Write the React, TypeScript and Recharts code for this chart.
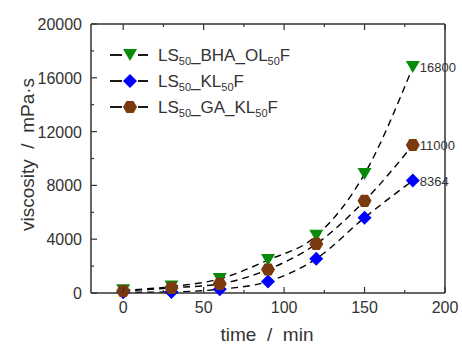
import React from 'react';
import { LineChart, Line, XAxis, YAxis, Legend, LabelList } from 'recharts';

const times = [0, 30, 60, 90, 120, 150, 180];
const bhaOl = [200, 480, 1050, 2450, 4250, 8850, 16800];
const klF = [50, 80, 280, 850, 2550, 5600, 8364];
const gaKl = [150, 380, 680, 1750, 3650, 6850, 11000];

const xTicks = [0, 25, 50, 75, 100, 125, 150, 175, 200];
const xMajor = [0, 50, 100, 150, 200];
const yTicks = [0, 2000, 4000, 6000, 8000, 10000, 12000, 14000, 16000, 18000, 20000];
const yMajor = [0, 4000, 8000, 12000, 16000, 20000];

const data = times.map((t, i) => ({ time: t, bha: bhaOl[i], kl: klF[i], ga: gaKl[i] }));

const FONT = '"Liberation Sans", Arial, sans-serif';
const AX = '#333';
const GREEN = '#0a8a0a';
const BLUE = '#0000ff';
const BROWN = '#7b3a0e';

function makeTick(orient: string, majors: number[], showLabel: boolean) {
  return (props: any) => {
    const { x, y, payload } = props;
    const v = payload.value;
    const major = majors.includes(v);
    const len = major ? 6 : 3;
    let line: any;
    if (orient === 'bottom') line = <line x1={x} y1={y} x2={x} y2={y - len} stroke={AX} strokeWidth={1.2} />;
    else if (orient === 'top') line = <line x1={x} y1={y} x2={x} y2={y + len} stroke={AX} strokeWidth={1.2} />;
    else if (orient === 'left') line = <line x1={x} y1={y} x2={x + len} y2={y} stroke={AX} strokeWidth={1.2} />;
    else line = <line x1={x} y1={y} x2={x - len} y2={y} stroke={AX} strokeWidth={1.2} />;
    let label: any = null;
    if (showLabel && major) {
      if (orient === 'bottom')
        label = <text x={x} y={y + 20} textAnchor="middle" fontSize={16} fill={AX} fontFamily={FONT}>{v}</text>;
      else if (orient === 'left')
        label = <text x={x - 9} y={y + 6} textAnchor="end" fontSize={16} fill={AX} fontFamily={FONT}>{v}</text>;
    }
    return <g>{line}{label}</g>;
  };
}

function TriDown({ cx, cy, fill }: any) {
  return <polygon points={`${cx - 7},${cy - 6} ${cx + 7},${cy - 6} ${cx},${cy + 6}`} fill={fill} />;
}
function Diamond({ cx, cy, fill }: any) {
  return <polygon points={`${cx},${cy - 7} ${cx + 7},${cy} ${cx},${cy + 7} ${cx - 7},${cy}`} fill={fill} />;
}
function Hexagon({ cx, cy, fill }: any) {
  const r = 7;
  const pts = [0, 60, 120, 180, 240, 300]
    .map((a) => `${cx + r * Math.cos((a * Math.PI) / 180)},${cy + r * Math.sin((a * Math.PI) / 180)}`)
    .join(' ');
  return <polygon points={pts} fill={fill} />;
}

const dotFn = (Shape: any, fill: string) => (props: any) =>
  props.cx == null ? <g key={props.index} /> : <Shape key={props.index} cx={props.cx} cy={props.cy} fill={fill} />;

const endLabel = (props: any) => {
  const { x, y, value, index } = props;
  if (index !== times.length - 1) return null;
  return (
    <text x={x + 7} y={y + 5} fontSize={13} fill={AX} fontFamily={FONT}>
      {value}
    </text>
  );
};

const legendItems = [
  { parts: [['LS', false], ['50', true], ['_BHA_OL', false], ['50', true], ['F', false]], Shape: TriDown, fill: GREEN },
  { parts: [['LS', false], ['50', true], ['_KL', false], ['50', true], ['F', false]], Shape: Diamond, fill: BLUE },
  { parts: [['LS', false], ['50', true], ['_GA_KL', false], ['50', true], ['F', false]], Shape: Hexagon, fill: BROWN },
];

const LegendContent = () => (
  <svg width={220} height={85} style={{ display: 'block' }}>
    {legendItems.map((it, i) => {
      const cy = 15 + i * 26;
      return (
        <g key={i}>
          <line x1={10} y1={cy} x2={22} y2={cy} stroke="#000" strokeWidth={1.8} />
          <line x1={38} y1={cy} x2={48} y2={cy} stroke="#000" strokeWidth={1.8} />
          <it.Shape cx={30} cy={cy} fill={it.fill} />
          <text x={58} y={cy + 6} fontSize={17} fill={AX} fontFamily={FONT}>
            {it.parts.map((p: any, j: number) =>
              p[1] ? (
                <tspan key={j} fontSize={11} dy={4}>{p[0]}</tspan>
              ) : (
                <tspan key={j} dy={j === 0 ? 0 : -4}>{p[0]}</tspan>
              )
            )}
          </text>
        </g>
      );
    })}
  </svg>
);

const yTitle = (props: any) => {
  const vb = props.viewBox;
  const cx = vb.x + 27;
  const cy = vb.y + vb.height / 2 - 4;
  return (
    <text x={cx} y={cy} transform={`rotate(-90 ${cx} ${cy})`} textAnchor="middle" dominantBaseline="central" fontSize={19} fill={AX} fontFamily={FONT}>
      {'viscosity\u00a0\u00a0/\u00a0\u00a0mPa·s'}
    </text>
  );
};

const xTitle = (props: any) => {
  const vb = props.viewBox;
  return (
    <text x={vb.x + vb.width / 2 - 1} y={vb.y + 48} textAnchor="middle" fontSize={19} fill={AX} fontFamily={FONT}>
      {'time\u00a0\u00a0/\u00a0\u00a0min'}
    </text>
  );
};

export default function App() {
  return (
    <div style={{ position: 'absolute', left: 0, top: 0, background: '#fff' }}>
      <LineChart width={462} height={345} data={data} margin={{ top: 23, right: 16, bottom: 0, left: 0 }}>
        <XAxis
          xAxisId="b"
          dataKey="time"
          type="number"
          domain={[-20, 200]}
          ticks={xTicks}
          interval={0}
          height={52}
          tickSize={0}
          tickMargin={0}
          tickLine={false}
          axisLine={{ stroke: AX, strokeWidth: 1.5 }}
          tick={makeTick('bottom', xMajor, true)}
          label={xTitle}
        />
        <XAxis
          xAxisId="t"
          orientation="top"
          dataKey="time"
          type="number"
          domain={[-20, 200]}
          ticks={xTicks}
          interval={0}
          height={1}
          tickSize={0}
          tickMargin={0}
          tickLine={false}
          axisLine={{ stroke: AX, strokeWidth: 1.5 }}
          tick={makeTick('top', xMajor, false)}
        />
        <YAxis
          yAxisId="l"
          type="number"
          domain={[0, 20000]}
          ticks={yTicks}
          interval={0}
          width={91}
          tickSize={0}
          tickMargin={0}
          tickLine={false}
          axisLine={{ stroke: AX, strokeWidth: 1.5 }}
          tick={makeTick('left', yMajor, true)}
          label={yTitle}
        />
        <YAxis
          yAxisId="r"
          orientation="right"
          type="number"
          domain={[0, 20000]}
          ticks={yTicks}
          interval={0}
          width={1}
          tickSize={0}
          tickMargin={0}
          tickLine={false}
          axisLine={{ stroke: AX, strokeWidth: 1.5 }}
          tick={makeTick('right', yMajor, false)}
        />
        <Legend
          layout="vertical"
          align="center"
          verticalAlign="middle"
          content={<LegendContent />}
          wrapperStyle={{ position: 'absolute', left: 100, top: 40, width: 220, height: 85 }}
        />
        <Line xAxisId="b" yAxisId="l" type="monotone" dataKey="bha" stroke="#000" strokeWidth={1.4} strokeDasharray="7 5" dot={dotFn(TriDown, GREEN)} activeDot={false} isAnimationActive={false}>
          <LabelList dataKey="bha" content={endLabel} />
        </Line>
        <Line xAxisId="b" yAxisId="l" type="monotone" dataKey="kl" stroke="#000" strokeWidth={1.4} strokeDasharray="7 5" dot={dotFn(Diamond, BLUE)} activeDot={false} isAnimationActive={false}>
          <LabelList dataKey="kl" content={endLabel} />
        </Line>
        <Line xAxisId="b" yAxisId="l" type="monotone" dataKey="ga" stroke="#000" strokeWidth={1.4} strokeDasharray="7 5" dot={dotFn(Hexagon, BROWN)} activeDot={false} isAnimationActive={false}>
          <LabelList dataKey="ga" content={endLabel} />
        </Line>
      </LineChart>
    </div>
  );
}
